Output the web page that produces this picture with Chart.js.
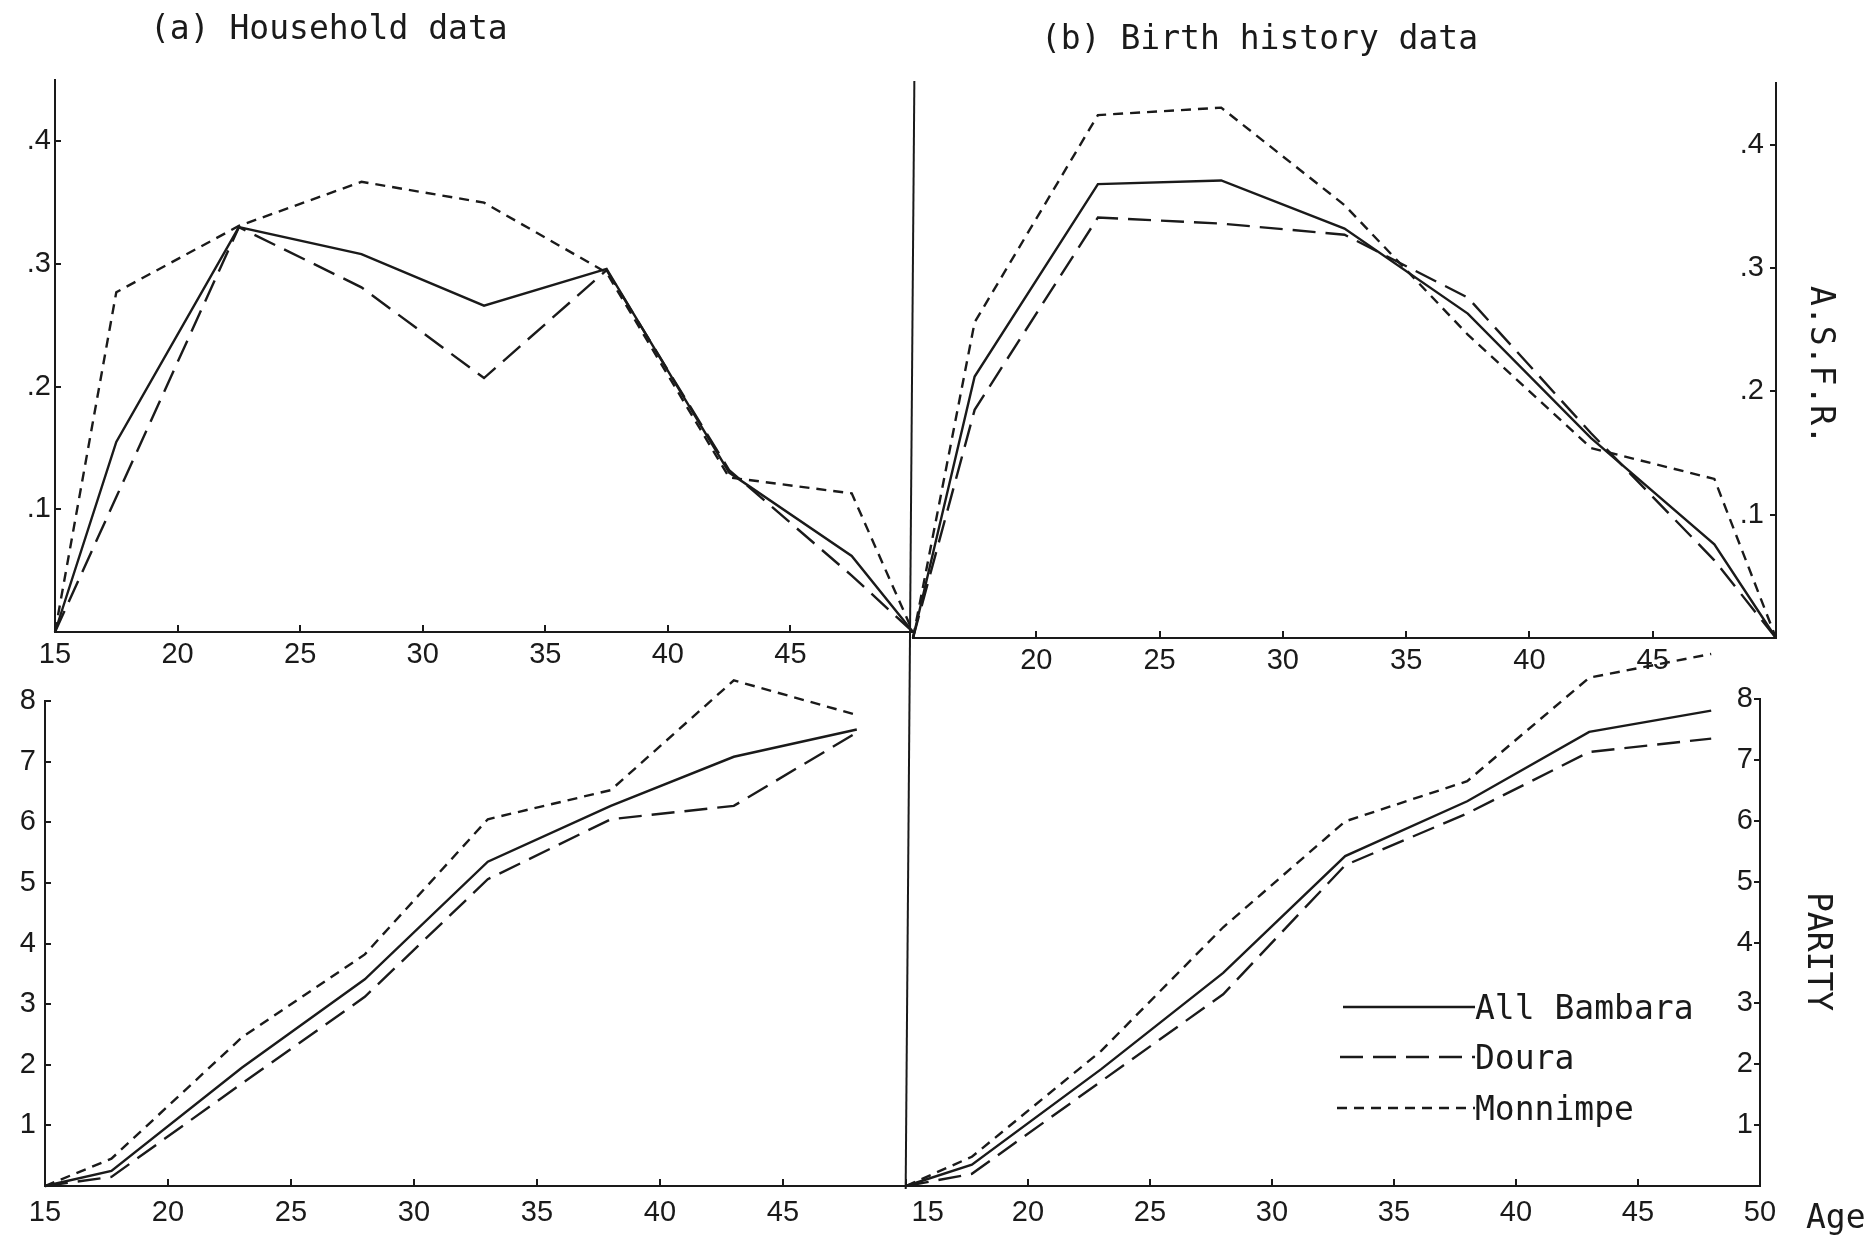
<!DOCTYPE html>
<html lang="en">
<head>
<meta charset="UTF-8">
<title>Household and birth history data - ASFR and parity</title>
<script src="https://cdn.jsdelivr.net/npm/chart.js"></script>
<style>
  body { margin: 0; background: #fff; }
  #page { position: relative; width: 1864px; height: 1240px; overflow: hidden; background: #fff; }
  #page canvas { position: absolute; left: 0; top: 0; }
  .txt { position: absolute; font-family: "DejaVu Sans Mono", monospace; font-size: 33px; color: #1a1a1a; white-space: nowrap; line-height: 1; }
  .vert { writing-mode: vertical-rl; }
  #midline { position: absolute; left: 909px; top: 81px; width: 2px; height: 1108px; background: #1a1a1a; transform: rotate(0.45deg); }
  #legend svg { position: absolute; overflow: visible; }
</style>
</head>
<body>
<div id="page">
  <canvas id="topA" width="1864" height="1240"></canvas>
  <canvas id="topB" width="1864" height="1240"></canvas>
  <canvas id="botA" width="1864" height="1240"></canvas>
  <canvas id="botB" width="1864" height="1240"></canvas>
  <div id="midline"></div>

  <div class="txt" style="left:150px; top:11px;">(a) Household data</div>
  <div class="txt" style="left:1041px; top:21px;">(b) Birth history data</div>
  <div class="txt vert" style="left:1806px; top:286px;">A.S.F.R.</div>
  <div class="txt vert" style="left:1803px; top:892px;">PARITY</div>
  <div class="txt" style="left:1806px; top:1200px;">Age</div>

  <div id="legend">
    <svg style="left:1343px; top:1007px;" width="1" height="1"><line x1="0" y1="0" x2="132" y2="0" stroke="#1a1a1a" stroke-width="2.4"/></svg>
    <svg style="left:1340px; top:1057px;" width="1" height="1"><line x1="0" y1="0" x2="135" y2="0" stroke="#1a1a1a" stroke-width="2.4" stroke-dasharray="23 10"/></svg>
    <svg style="left:1337px; top:1108px;" width="1" height="1"><line x1="0" y1="0" x2="138" y2="0" stroke="#1a1a1a" stroke-width="2.4" stroke-dasharray="10 7"/></svg>
    <div class="txt" style="left:1475px; top:991px;">All Bambara</div>
    <div class="txt" style="left:1475px; top:1041px;">Doura</div>
    <div class="txt" style="left:1475px; top:1092px;">Monnimpe</div>
  </div>
</div>

<script>
// ages: mid-points of the five-year groups plus the 15 / 50 end points (as plotted)
const asfrAges = [15, 17.5, 22.5, 27.5, 32.5, 37.5, 42.5, 47.5, 50];
const parityAges = [15, 17.7, 23, 28, 33, 38, 43, 48];

// (a) household data
const hhAsfrBambara   = [0, 0.155, 0.330, 0.308, 0.266, 0.296, 0.130, 0.062, 0];
const hhAsfrDoura     = [0, 0.110, 0.330, 0.281, 0.207, 0.295, 0.132, 0.046, 0];
const hhAsfrMonnimpe  = [0, 0.277, 0.331, 0.367, 0.350, 0.293, 0.126, 0.113, 0];
const hhParBambara    = [0, 0.25, 1.95, 3.41, 5.35, 6.27, 7.08, 7.53];
const hhParDoura      = [0, 0.15, 1.69, 3.12, 5.06, 6.05, 6.27, 7.48];
const hhParMonnimpe   = [0, 0.45, 2.45, 3.82, 6.05, 6.53, 8.34, 7.77];

// (b) birth history data
const bhAsfrBambara   = [0, 0.212, 0.368, 0.371, 0.332, 0.263, 0.162, 0.076, 0];
const bhAsfrDoura     = [0, 0.185, 0.341, 0.336, 0.327, 0.276, 0.166, 0.063, 0];
const bhAsfrMonnimpe  = [0, 0.256, 0.424, 0.430, 0.351, 0.246, 0.154, 0.129, 0];
const bhParBambara    = [0, 0.35, 1.92, 3.50, 5.42, 6.32, 7.46, 7.81];
const bhParDoura      = [0, 0.20, 1.72, 3.15, 5.27, 6.12, 7.13, 7.35];
const bhParMonnimpe   = [0, 0.48, 2.22, 4.25, 5.99, 6.65, 8.35, 8.74];

// ticks
const asfrTicks = [0.1, 0.2, 0.3, 0.4];
const asfrTickLabels = ['.1', '.2', '.3', '.4'];
const parityTicks = [1, 2, 3, 4, 5, 6, 7, 8];
const parityTickLabels = ['1', '2', '3', '4', '5', '6', '7', '8'];
const ageTicksTopA = [15, 20, 25, 30, 35, 40, 45];
const ageLabelsTopA = ['15', '20', '25', '30', '35', '40', '45'];
const ageTicksTopB = [20, 25, 30, 35, 40, 45];
const ageLabelsTopB = ['20', '25', '30', '35', '40', '45'];
const ageTicksBotA = [15, 20, 25, 30, 35, 40, 45];
const ageLabelsBotA = ['15', '20', '25', '30', '35', '40', '45'];
const ageTicksBotB = [15, 20, 25, 30, 35, 40, 45, 50];
const ageLabelsBotB = ['\u2002\u2002\u200215', '20', '25', '30', '35', '40', '45', '50'];

const INK = '#1a1a1a';
const W = 1864, H = 1240;
const AXV = 40;   // room kept for a vertical axis
const AXH = 50;   // room kept for a horizontal axis
const tickFont = { family: '"Liberation Sans", Arial, sans-serif', size: 29 };

function toPoints(xs, ys) {
  return xs.map((x, i) => ({ x: x, y: ys[i] }));
}

function series(xs, bambara, doura, monnimpe) {
  return [
    { label: 'All Bambara', data: toPoints(xs, bambara), borderDash: [] },
    { label: 'Doura', data: toPoints(xs, doura), borderDash: [23, 10] },
    { label: 'Monnimpe', data: toPoints(xs, monnimpe), borderDash: [10, 7] }
  ].map(d => Object.assign(d, {
    borderColor: INK, borderWidth: 2.4, pointRadius: 0, tension: 0, fill: false, clip: false
  }));
}

function fixedRoom(scale) {
  if (scale.isHorizontal()) scale.height = AXH; else scale.width = AXV;
}

function drawPanel(id, box, opt) {
  const leftAxis = opt.yPos === 'left';
  new Chart(document.getElementById(id), {
    type: 'line',
    data: { datasets: opt.datasets },
    options: {
      responsive: false,
      animation: false,
      events: [],
      layout: {
        padding: {
          left: box.left - (leftAxis ? AXV : 0),
          right: W - box.right - (leftAxis ? 0 : AXV),
          top: box.top,
          bottom: H - box.bottom - AXH
        }
      },
      plugins: { legend: { display: false }, tooltip: { enabled: false } },
      scales: {
        x: {
          type: 'linear', min: 15, max: 50, position: 'bottom',
          afterFit: fixedRoom,
          afterBuildTicks: s => { s.ticks = opt.xTicks.map(v => ({ value: v })); },
          ticks: {
            callback: (v, i) => opt.xLabels[i],
            font: tickFont, color: INK, padding: opt.xPad, maxRotation: 0, autoSkip: false
          },
          grid: { drawOnChartArea: false, tickLength: -7, color: INK, lineWidth: 2 },
          border: { display: true, color: INK, width: 2 }
        },
        y: {
          type: 'linear', min: 0, max: opt.yMax, position: opt.yPos,
          afterFit: fixedRoom,
          afterBuildTicks: s => { s.ticks = opt.yTicks.map(v => ({ value: v })); },
          ticks: {
            callback: (v, i) => opt.yLabels[i],
            font: tickFont, color: INK, padding: opt.yPad, mirror: !leftAxis
          },
          grid: { drawOnChartArea: false, tickLength: -6, color: INK, lineWidth: 2 },
          border: { display: true, color: INK, width: 2 }
        }
      }
    }
  });
}

drawPanel('topA', { left: 55, right: 913, top: 80, bottom: 632 }, {
  datasets: series(asfrAges, hhAsfrBambara, hhAsfrDoura, hhAsfrMonnimpe),
  xTicks: ageTicksTopA, xLabels: ageLabelsTopA, xPad: 13,
  yTicks: asfrTicks, yLabels: asfrTickLabels, yMax: 0.45, yPos: 'left', yPad: 10
});
drawPanel('topB', { left: 913, right: 1776, top: 83, bottom: 638 }, {
  datasets: series(asfrAges, bhAsfrBambara, bhAsfrDoura, bhAsfrMonnimpe),
  xTicks: ageTicksTopB, xLabels: ageLabelsTopB, xPad: 13,
  yTicks: asfrTicks, yLabels: asfrTickLabels, yMax: 0.45, yPos: 'right', yPad: -12
});
drawPanel('botA', { left: 45, right: 906, top: 701, bottom: 1186 }, {
  datasets: series(parityAges, hhParBambara, hhParDoura, hhParMonnimpe),
  xTicks: ageTicksBotA, xLabels: ageLabelsBotA, xPad: 17,
  yTicks: parityTicks, yLabels: parityTickLabels, yMax: 8, yPos: 'left', yPad: 15
});
drawPanel('botB', { left: 906, right: 1760, top: 699, bottom: 1186 }, {
  datasets: series(parityAges, bhParBambara, bhParDoura, bhParMonnimpe),
  xTicks: ageTicksBotB, xLabels: ageLabelsBotB, xPad: 17,
  yTicks: parityTicks, yLabels: parityTickLabels, yMax: 8, yPos: 'right', yPad: -7
});
</script>
</body>
</html>
